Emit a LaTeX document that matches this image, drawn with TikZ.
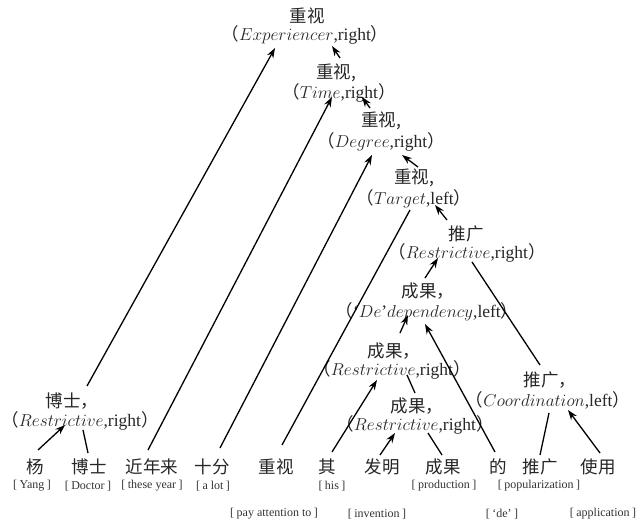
\documentclass[tikz,border=0pt]{standalone}
\usepackage{fontspec}
\setmainfont{Liberation Serif}
\newfontfamily\cjk{Noto Sans CJK SC}
\usetikzlibrary{arrows.meta}
\newcommand{\lp}{{\cjk （}}
\newcommand{\rp}{{\cjk ）}}
\newcommand{\gl}[1]{[\hspace{2.5pt}#1\hspace{2.5pt}]}
\begin{document}
\begin{tikzpicture}[x=1pt,y=-1pt,
  wd/.style={font=\cjk\fontsize{17.5}{17.5}\selectfont, inner sep=0pt, text=black!85},
  rl/.style={font=\fontsize{17.5}{17.5}\selectfont, inner sep=0pt, text=black!85},
  gs/.style={font=\fontsize{12}{12}\selectfont, inner sep=0pt, text=black!80},
  dep/.style={-{Stealth[length=10pt,width=7pt]}, line width=1.3pt},
  hd/.style={line width=1.3pt}]
\useasboundingbox (0,0) rectangle (638,523);
% bottom words
\node[wd] (wYang) at (35,467) {杨};
\node[wd] (wBoshi) at (89,467) {博士};
\node[wd] (wJin) at (152,467) {近年来};
\node[wd] (wShi) at (212,467) {十分};
\node[wd] (wZhong) at (276,467) {重视};
\node[wd] (wQi) at (327,467) {其};
\node[wd] (wFa) at (382,467) {发明};
\node[wd] (wCg) at (443,467) {成果};
\node[wd] (wDe) at (498,467) {的};
\node[wd] (wTg) at (540,467) {推广};
\node[wd] (wSy) at (598,467) {使用};
% glosses
\node[gs] (gYang) at (32,486) {\gl{Yang}};
\node[gs] (gDoc) at (88,486) {\gl{Doctor}};
\node[gs] (gThese) at (152,486) {\gl{these year}};
\node[gs] (gAlot) at (213,486) {\gl{a lot}};
\node[gs] (gHis) at (332,486) {\gl{his}};
\node[gs] (gProd) at (444,486) {\gl{production}};
\node[gs] (gPop) at (539,486) {\gl{popularization}};
\node[gs] (gPay) at (274,514) {\gl{pay attention to}};
\node[gs] (gInv) at (377,514) {\gl{invention}};
\node[gs] (gDeq) at (502,514) {\gl{‘de’}};
\node[gs] (gApp) at (603,514) {\gl{application}};
% combined nodes
\node[wd] (expW) at (307,16) {重视};
\node[rl] (expR) at (305,35) {\lp$Experiencer$,right\rp};
\node[wd] (timW) at (336,73) {重视,};
\node[rl] (timR) at (339,93) {\lp$Time$,right\rp};
\node[wd] (degW) at (381,121) {重视,};
\node[rl] (degR) at (381,142) {\lp$Degree$,right\rp};
\node[wd] (tarW) at (414,178) {重视,};
\node[rl] (tarR) at (414,199) {\lp$Target$,left\rp};
\node[wd] (tgW) at (466,234) {推广};
\node[rl] (tgR) at (467,253) {\lp$Restrictive$,right\rp};
\node[wd] (deW) at (428,291) {成果，};
\node[rl] (deR) at (427,312) {\lp‘$De$’$dependency$,left\rp};
\node[wd] (cgaW) at (394,351) {成果，};
\node[rl] (cgaR) at (392,370) {\lp$Restrictive$,right\rp};
\node[wd] (cgbW) at (417,406) {成果，};
\node[rl] (cgbR) at (415,425) {\lp$Restrictive$,right\rp};
\node[wd] (coW) at (550,380) {推广，};
\node[rl] (coR) at (548,400) {\lp$Coordination$,left\rp};
\node[wd] (bsW) at (72,401) {博士，};
\node[rl] (bsR) at (80,421) {\lp$Restrictive$,right\rp};
% connectors
\draw[dep] ([shift={(3,-17)}]wYang.center) -- ([shift={(-15,4)}]bsR.center);
\draw[hd] ([shift={(-1,-14)}]wBoshi.center) -- ([shift={(3,9)}]bsR.center);
\draw[dep] ([shift={(15,-15)}]bsW.center) -- ([shift={(-30,13)}]expR.center);
\draw[dep] ([shift={(-4,-17)}]wJin.center) -- ([shift={(-7,4)}]timR.center);
\draw[dep] ([shift={(8,-19)}]wShi.center) -- ([shift={(-9,13)}]degR.center);
\draw[hd] ([shift={(6,-22)}]wZhong.center) -- ([shift={(-4,11)}]tarR.center);
\draw[dep] ([shift={(4,-15)}]timW.center) -- ([shift={(27,11)}]expR.center);
\draw[dep] ([shift={(-11,-13)}]degW.center) -- ([shift={(23,4)}]timR.center);
\draw[dep] ([shift={(4,-11)}]tarW.center) -- ([shift={(21,13)}]degR.center);
\draw[dep] ([shift={(-19,-14)}]tgW.center) -- ([shift={(21,6)}]tarR.center);
\draw[dep] ([shift={(-3,-13)}]deW.center) -- ([shift={(-29,5)}]tgR.center);
\draw[hd] ([shift={(5,9)}]tgR.center) -- ([shift={(-10,-15)}]coW.center);
\draw[dep] ([shift={(6,-18)}]cgaW.center) -- ([shift={(-19,3)}]deR.center);
\draw[dep] ([shift={(-3,-15)}]wDe.center) -- ([shift={(-2,12)}]deR.center);
\draw[dep] ([shift={(5,-15)}]wQi.center) -- ([shift={(-15,10)}]cgaR.center);
\draw[dep] ([shift={(-2,-12)}]wFa.center) -- ([shift={(-20,8)}]cgbR.center);
\draw[hd] ([shift={(-1,-12)}]wCg.center) -- ([shift={(13,8)}]cgbR.center);
\draw[hd] ([shift={(-2,-13)}]cgbW.center) -- ([shift={(15,5)}]cgaR.center);
\draw[hd] ([shift={(0,-12)}]wTg.center) -- ([shift={(1,13)}]coR.center);
\draw[dep] ([shift={(2,-14)}]wSy.center) -- ([shift={(20,10)}]coR.center);
\end{tikzpicture}
\end{document}
